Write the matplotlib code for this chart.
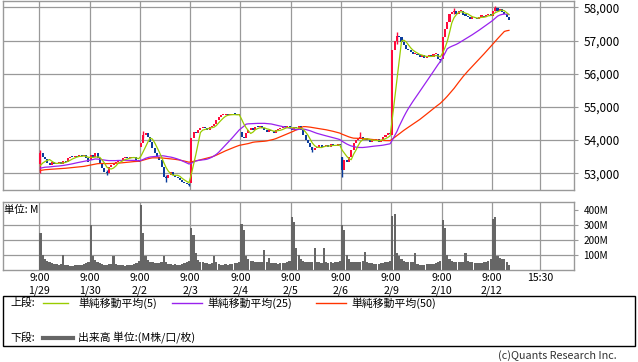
import numpy as np
import pandas as pd
import matplotlib
matplotlib.use("Agg")
import matplotlib.pyplot as plt
from matplotlib.lines import Line2D
from matplotlib.patches import Rectangle
from matplotlib.ticker import FuncFormatter

plt.rcParams['font.family'] = ['Noto Sans CJK JP', 'DejaVu Sans']

# ---------------- data (15-minute bars, 22 per session) ----------------
days = ['1/29', '1/30', '2/2', '2/3', '2/4', '2/5', '2/6', '2/9', '2/10', '2/12']
bars_per_day = 22

# closes of the sessions before 1/29 (off chart, only feed the moving averages)
close_prev_sessions = [52750, 52820, 52780, 52850, 52800, 52830, 53050, 53100, 53180, 53120,
                       53150, 53090, 53200, 53160, 53110, 53140, 53080, 53120, 53170, 53150,
                       53100, 53130, 53190, 53160, 53120, 53100, 53150, 53180, 53140, 53120]

# opening price of each session (first bar)
day_open = [53280, 53400, 53800, 52700, 54250, 54350, 53480, 54150, 56450, 57750]

close_0129 = [53600, 53500, 53420, 53300, 53250, 53350, 53280, 53300, 53330, 53280, 53380,
              53350, 53450, 53500, 53480, 53520, 53500, 53540, 53510, 53550, 53450, 53350]
close_0130 = [53550, 53500, 53600, 53450, 53300, 53150, 53050, 53000, 53200, 53250, 53300,
              53350, 53400, 53380, 53450, 53480, 53450, 53500, 53470, 53480, 53400, 53350]
close_0202 = [53900, 54150, 54200, 54100, 53950, 53750, 53600, 53500, 53400, 53200, 52900,
              52850, 52950, 53050, 52950, 52900, 52850, 52800, 52750, 52700, 52680, 52650]
close_0203 = [54050, 54250, 54200, 54300, 54350, 54400, 54350, 54300, 54380, 54420, 54500,
              54600, 54700, 54750, 54760, 54780, 54750, 54760, 54780, 54770, 54750, 54760]
close_0204 = [54100, 54050, 54200, 54300, 54350, 54300, 54400, 54380, 54420, 54350, 54300,
              54250, 54300, 54280, 54220, 54300, 54330, 54350, 54400, 54380, 54420, 54350]
close_0205 = [54300, 54400, 54350, 54420, 54300, 54150, 54000, 53900, 53800, 53700, 53750,
              53800, 53850, 53780, 53820, 53850, 53800, 53880, 53850, 53820, 53870, 53850]
close_0206 = [53100, 53400, 53350, 53500, 53700, 53900, 54000, 54050, 54100, 54000, 54050,
              54000, 53950, 54000, 53980, 54020, 53950, 54000, 54100, 54150, 54200, 54180]
close_0209 = [56700, 57000, 57150, 57100, 56950, 56850, 56750, 56700, 56650, 56600, 56600,
              56550, 56500, 56550, 56480, 56520, 56550, 56500, 56580, 56600, 56450, 56400]
close_0210 = [57100, 57350, 57550, 57800, 57850, 57900, 57800, 57880, 57900, 57780, 57750,
              57700, 57650, 57700, 57680, 57650, 57720, 57750, 57700, 57760, 57800, 57750]
close_0212 = [57900, 57980, 57900, 57950, 57850, 57800, 57700, 57620]

# a few visible wick extremes: (session, bar, low, high)
wicks = [(0, 0, 53000, 53700), (1, 7, 52950, 53100), (2, 1, 54050, 54280),
         (2, 11, 52750, 52950), (2, 21, 52620, 52700), (5, 9, 53650, 53800),
         (6, 0, 52900, 53480), (6, 8, 54050, 54250), (7, 2, 56900, 57250),
         (7, 21, 56350, 56450), (8, 5, 57800, 57980), (9, 1, 57900, 58030)]

# volume, millions
vol_0129 = [245, 100, 70, 60, 50, 45, 40, 38, 35, 40, 100, 35, 30, 28, 28, 30, 30, 32, 35, 40, 45, 55]
vol_0130 = [300, 90, 65, 50, 45, 40, 35, 35, 38, 40, 90, 38, 32, 30, 30, 28, 30, 32, 35, 38, 45, 60]
vol_0202 = [430, 245, 90, 65, 55, 50, 48, 45, 45, 50, 95, 50, 40, 38, 35, 38, 35, 35, 40, 45, 50, 60]
vol_0203 = [280, 235, 110, 65, 55, 50, 45, 45, 40, 45, 90, 50, 40, 35, 35, 38, 35, 40, 40, 45, 45, 50]
vol_0204 = [305, 265, 95, 70, 60, 60, 55, 55, 50, 50, 135, 55, 78, 45, 45, 45, 42, 45, 45, 48, 50, 60]
vol_0205 = [350, 320, 145, 100, 70, 60, 55, 55, 50, 50, 145, 55, 50, 45, 145, 55, 45, 50, 48, 50, 55, 60]
vol_0206 = [300, 265, 100, 75, 55, 55, 50, 50, 55, 60, 120, 50, 45, 45, 40, 40, 42, 45, 45, 50, 55, 60]
vol_0209 = [360, 370, 110, 90, 70, 60, 55, 50, 50, 50, 110, 40, 35, 35, 35, 38, 38, 40, 42, 45, 55, 60]
vol_0210 = [330, 280, 100, 75, 60, 55, 55, 50, 50, 50, 110, 60, 55, 50, 48, 45, 45, 45, 50, 55, 60, 70]
vol_0212 = [340, 350, 90, 80, 75, 70, 55, 30]

closes_by_day = [close_0129, close_0130, close_0202, close_0203, close_0204,
                 close_0205, close_0206, close_0209, close_0210, close_0212]
vols_by_day = [vol_0129, vol_0130, vol_0202, vol_0203, vol_0204,
               vol_0205, vol_0206, vol_0209, vol_0210, vol_0212]

price_ticks = [53000, 54000, 55000, 56000, 57000, 58000]
vol_ticks = [100, 200, 300, 400]

# ---------------- build series ----------------
x, closes, opens, vols = [], [], [], []
prev = close_prev_sessions[-1]
for d, (cl, vo) in enumerate(zip(closes_by_day, vols_by_day)):
    for k, c in enumerate(cl):
        x.append(d * bars_per_day + k + 0.5)
        opens.append(day_open[d] if k == 0 else prev)
        closes.append(c)
        vols.append(vo[k])
        prev = c
x = np.array(x)
opens = np.array(opens, dtype=float)
closes = np.array(closes, dtype=float)

full = pd.Series(close_prev_sessions + list(closes))
n_prev = len(close_prev_sessions)
ma5 = full.rolling(5, min_periods=1).mean().iloc[n_prev:].values
ma25 = full.rolling(25, min_periods=1).mean().iloc[n_prev:].values
ma50 = full.rolling(50, min_periods=1).mean().iloc[n_prev:].values

# ---------------- figure ----------------
W, H = 638, 362
fig = plt.figure(figsize=(W / 100, H / 100), dpi=100)
fig.patch.set_facecolor('white')

def fbox(l, t, r, b):
    return [l / W, 1 - b / H, (r - l) / W, (b - t) / H]

ax = fig.add_axes(fbox(3.3, 0.5, 574.3, 190.3))
axv = fig.add_axes(fbox(3.3, 201.7, 574.3, 270))

red, blue = '#ff0a3c', '#0a3c9c'
grid_c = '#999999'

body_lo = np.minimum(opens, closes)
body_h = np.maximum(np.abs(closes - opens), 35)
cols = [red if c >= o else blue for o, c in zip(opens, closes)]

for d, k, lo, hi in wicks:
    i = d * bars_per_day + k
    ax.vlines(x[i], lo, hi, color=cols[i], lw=1.0, zorder=3)
ax.bar(x, body_h, bottom=body_lo, width=0.9, color=cols, linewidth=0, zorder=3)

ax.plot(x, ma50, color='#ff3300', lw=0.9, zorder=4)
ax.plot(x, ma25, color='#9922ee', lw=0.9, zorder=4)
ax.plot(x, ma5, color='#99cc00', lw=0.9, zorder=5)

axv.bar(x, vols, width=0.95, color='#666666', linewidth=0, zorder=3)

day_starts = [d * bars_per_day for d in range(len(days))]
close_tick = day_starts[-1] + 21
vgrid = day_starts + [close_tick]

for a in (ax, axv):
    a.set_xlim(-15.75, 234.1)
    for s in a.spines.values():
        s.set_color(grid_c)
        s.set_linewidth(1.0)
    for gx in vgrid:
        a.axvline(gx, color=grid_c, lw=0.9, zorder=1)
    a.yaxis.tick_right()
    a.tick_params(axis='y', direction='out', length=3, width=0.8, color=grid_c, pad=3.5)

ax.set_ylim(52488, 58205)
ax.set_yticks(price_ticks)
ax.yaxis.set_major_formatter(FuncFormatter(lambda v, p: f'{int(v):,}'))
ax.tick_params(axis='y', labelsize=8.5)
for gy in price_ticks:
    ax.axhline(gy, color=grid_c, lw=0.9, zorder=1)
ax.set_xticks([])

axv.set_ylim(0, 455)
axv.set_yticks(vol_ticks)
axv.set_yticklabels([f'{v}M' for v in vol_ticks])
axv.tick_params(axis='y', labelsize=7.2)
for gy in vol_ticks[:-1]:
    axv.axhline(gy, color=grid_c, lw=0.9, zorder=1)
axv.set_xticks(vgrid)
axv.set_xticklabels([f'9:00\n{d}' for d in days] + ['15:30'])
axv.tick_params(axis='x', length=0, labelsize=7.6, pad=2.5)
axv.text(0.002, 0.88, '単位: M', transform=axv.transAxes, fontsize=7.5,
         ha='left', va='center', zorder=6)

# ---------------- legend box ----------------
fig.patches.append(Rectangle((3 / W, 1 - 346 / H), 632 / W, 50 / H, transform=fig.transFigure,
                             fill=False, edgecolor='black', linewidth=1.0))

def ftext(px, py, s, **kw):
    fig.text(px / W, 1 - py / H, s, va='center', fontsize=7.8, **kw)

def fline(x0, x1, py, **kw):
    fig.lines.append(Line2D([x0 / W, x1 / W], [1 - py / H] * 2, transform=fig.transFigure, **kw))

ftext(10, 303, '上段:')
fline(43, 68, 303, color='#99cc00', lw=1)
ftext(78, 303, '単純移動平均(5)')
fline(172, 202, 303, color='#9922ee', lw=1)
ftext(207, 303, '単純移動平均(25)')
fline(316, 346, 303, color='#ff3300', lw=1)
ftext(351, 303, '単純移動平均(50)')
ftext(10, 338, '下段:')
fline(43, 73, 338, color='#666666', lw=3)
ftext(78, 338, '出来高 単位:(M株/口/枚)')
ftext(617, 356, '(c)Quants Research Inc.', ha='right', color='#333333')

fig.savefig('out.png', dpi=100)
